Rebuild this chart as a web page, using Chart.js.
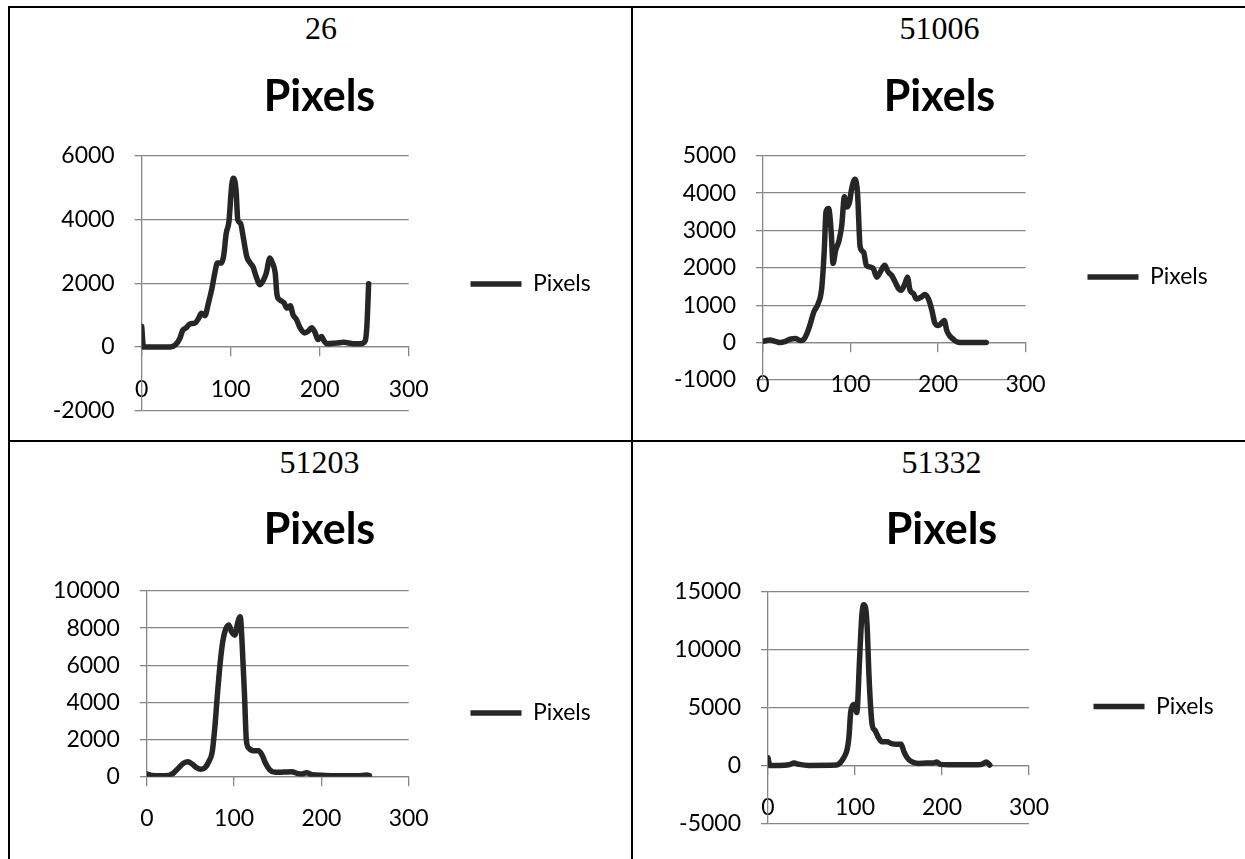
<!DOCTYPE html>
<html>
<head>
<meta charset="utf-8">
<script src="https://cdn.jsdelivr.net/npm/chart.js@4.4.1/dist/chart.umd.min.js"></script>
<style>
    html, body { margin: 0; padding: 0; background: #fff; }
    #page { position: relative; width: 1245px; height: 859px; overflow: hidden; background: #fff; }
    .rule { position: absolute; background: #000; }
    .caption {
        position: absolute; width: 200px; height: 36px; line-height: 36px;
        text-align: center; font-family: 'Liberation Serif', serif; font-size: 32px; color: #000;
    }
    canvas { position: absolute; }
</style>
</head>
<body>
<div id="page">
    <div class="rule" style="left:8px;top:6px;width:1237px;height:2px"></div>
    <div class="rule" style="left:8px;top:6px;width:2px;height:853px"></div>
    <div class="rule" style="left:631px;top:6px;width:2px;height:853px"></div>
    <div class="rule" style="left:8px;top:440px;width:1237px;height:2px"></div>
    <div class="caption" id="cap1"></div>
    <div class="caption" id="cap2"></div>
    <div class="caption" id="cap3"></div>
    <div class="caption" id="cap4"></div>
    <canvas id="c1"></canvas>
    <canvas id="c2"></canvas>
    <canvas id="c3"></canvas>
    <canvas id="c4"></canvas>
</div>
<script>
// image ids shown above each histogram
const captions = ['26', '51006', '51203', '51332'];
const seriesName = 'Pixels';

// histogram readings: grey level bin -> pixel count
const bins26 = [0, 2, 32, 38, 43, 46, 50, 54, 60, 64, 67, 71, 75, 79, 82, 85, 89, 92, 95, 98,
    101, 103, 106, 108, 111, 114, 118, 122, 125, 128, 133, 137, 140, 144, 147, 150, 152, 155, 160, 163,
    167, 170, 174, 178, 183, 187, 191, 195, 198, 202, 205, 208, 219, 227, 238, 246, 251, 253, 255];
const pixels26 = [650, 0, 0, 70, 280, 520, 600, 720, 750, 900, 1060, 980, 1380, 1850, 2300, 2630, 2630, 2840, 3570, 3930,
    5030, 5290, 4920, 3980, 3880, 3460, 2840, 2630, 2520, 2260, 1950, 2110, 2320, 2790, 2630, 2320, 1640, 1480, 1380, 1220,
    1290, 1010, 855, 600, 440, 490, 600, 440, 230, 330, 180, 100, 125, 145, 100, 100, 180, 650, 1980];

const bins51006 = [0, 8, 14, 20, 25, 31, 37, 43, 46, 50, 54, 58, 63, 67, 70, 72, 75, 78, 80, 83,
    87, 90, 93, 96, 99, 101, 105, 108, 111, 115, 118, 123, 126, 130, 134, 139, 143, 147, 151, 155,
    158, 162, 165, 168, 172, 175, 181, 185, 189, 193, 196, 200, 204, 207, 210, 213, 217, 223, 236, 255];
const pixels51006 = [35, 70, 35, 0, 27, 90, 107, 54, 72, 233, 500, 815, 1040, 1440, 2470, 3500, 3590, 2920, 2120, 2470,
    2740, 3140, 3900, 3630, 3770, 4080, 4370, 3990, 2560, 2420, 2070, 2020, 1980, 1750, 1890, 2070, 1890, 1800, 1620, 1440,
    1400, 1570, 1750, 1400, 1310, 1170, 1220, 1290, 1170, 860, 545, 456, 520, 590, 322, 188, 98, 9, 0, 0];

const bins51203 = [0, 6, 15, 25, 31, 36, 42, 47, 52, 57, 62, 67, 71, 75, 78, 81, 84, 87, 90, 94,
    97, 101, 104, 107, 109, 112, 114, 117, 122, 128, 132, 136, 141, 147, 157, 166, 172, 178, 183, 189,
    202, 218, 241, 252, 255];
const pixels51203 = [145, 70, 55, 70, 215, 450, 720, 810, 680, 485, 395, 500, 810, 1350, 2690, 4490, 6100, 7270, 7900, 8170,
    7810, 7630, 8260, 8620, 7360, 4310, 1975, 1530, 1400, 1400, 1170, 720, 360, 233, 250, 270, 180, 145, 215, 108,
    72, 54, 54, 90, 54];

const bins51332 = [0, 2, 13, 24, 30, 36, 47, 79, 83, 87, 91, 93, 95, 97, 100, 102, 103, 105, 108, 110,
    112, 114, 116, 118, 120, 123, 127, 131, 137, 142, 148, 153, 156, 160, 165, 173, 182, 190, 194, 198,
    207, 226, 245, 251, 255];
const pixels51332 = [660, 0, 0, 58, 200, 87, 0, 30, 230, 660, 1385, 2400, 4560, 5140, 5280, 4560, 5280, 8740, 13070, 13880,
    13650, 11920, 7880, 5000, 3400, 3030, 2400, 2050, 2050, 1875, 1820, 1820, 1240, 660, 317, 173, 200, 200, 290, 87,
    58, 58, 87, 290, 30];

// axis ranges: [min, max, step]
const xRange = [0, 300, 100];
const yRange26 = [-2000, 6000, 2000];
const yRange51006 = [-1000, 5000, 1000];
const yRange51203 = [0, 10000, 2000];
const yRange51332 = [-5000, 15000, 5000];

const lineColor = '#262626';
const gridColor = '#868686';

// where each chart sits on the page
// yW = y axis width, xH = space kept under the plot, gap = plot edge to legend line, legW = legend width
const boxes = [
    { left: 39, top: 60, width: 561, height: 448, yW: 97.7, xH: 97.3, tTop: 11.2, tBot: 32.9, gap: 61.8, legW: 186.3, cap: [321, 28.3] },
    { left: 662, top: 60, width: 555, height: 434, yW: 96, xH: 114, tTop: 11.2, tBot: 32.9, gap: 61.9, legW: 186.4, cap: [939.5, 28.3] },
    { left: 39, top: 490, width: 561, height: 446, yW: 102.8, xH: 159.3, tTop: 14.2, tBot: 35.2, gap: 61.8, legW: 186.3, cap: [319.4, 461.7] },
    { left: 660, top: 490, width: 563, height: 433, yW: 103, xH: 99.7, tTop: 14.2, tBot: 35.9, gap: 64.5, legW: 189, cap: [941.4, 461.7] }
];

Chart.defaults.font.family = 'Lato';
Chart.defaults.color = '#000';

function makeChart(n, bins, values, yRange) {
    const box = boxes[n];
    const cap = document.getElementById('cap' + (n + 1));
    cap.textContent = captions[n];
    cap.style.left = (box.cap[0] - 100) + 'px';
    cap.style.top = (box.cap[1] - 18) + 'px';

    const canvas = document.getElementById('c' + (n + 1));
    canvas.style.left = box.left + 'px';
    canvas.style.top = box.top + 'px';
    canvas.width = box.width;
    canvas.height = box.height;

    const points = bins.map((b, i) => ({ x: b, y: values[i] }));

    return new Chart(canvas, {
        type: 'line',
        data: {
            datasets: [{
                label: seriesName,
                data: points,
                xAxisID: 'x',
                yAxisID: 'y',
                borderColor: lineColor,
                backgroundColor: lineColor,
                borderWidth: 5.5,
                borderCapStyle: 'round',
                borderJoinStyle: 'round',
                pointRadius: 0,
                cubicInterpolationMode: 'monotone',
                fill: false
            }]
        },
        options: {
            responsive: false,
            animation: false,
            layout: { padding: { left: 5, right: 5, top: 0, bottom: 0 } },
            plugins: {
                title: {
                    display: true,
                    text: seriesName,
                    color: '#000',
                    font: { size: 43, weight: 'bold' },
                    padding: { top: box.tTop, bottom: box.tBot }
                },
                legend: {
                    position: 'right',
                    maxWidth: box.legW,
                    labels: {
                        usePointStyle: true,
                        pointStyle: 'line',
                        pointStyleWidth: 51,
                        padding: box.gap,
                        color: '#000',
                        font: { size: 23 }
                    }
                },
                tooltip: { enabled: false }
            },
            scales: {
                x: {
                    type: 'linear',
                    position: { y: 0 },
                    min: xRange[0],
                    max: xRange[1],
                    border: { color: gridColor, width: 1.3 },
                    grid: { drawOnChartArea: false, color: gridColor, lineWidth: 1.3, tickLength: 9 },
                    ticks: {
                        stepSize: xRange[2],
                        padding: 19.5,
                        maxRotation: 0,
                        font: { size: 23 },
                        callback: (v) => String(v)
                    }
                },
                // empty strip under the plot, leaves room for the x labels
                under: {
                    type: 'linear',
                    position: 'bottom',
                    grid: { display: false },
                    border: { display: false },
                    ticks: { display: false },
                    afterFit: (s) => { s.height = box.xH; }
                },
                y: {
                    min: yRange[0],
                    max: yRange[1],
                    afterFit: (s) => { s.width = box.yW; },
                    border: { color: gridColor, width: 1.3 },
                    grid: { color: gridColor, lineWidth: 1.3, tickLength: 7 },
                    ticks: {
                        stepSize: yRange[2],
                        padding: 20,
                        font: { size: 23 },
                        callback: (v) => String(v)
                    }
                }
            }
        }
    });
}

makeChart(0, bins26, pixels26, yRange26);
makeChart(1, bins51006, pixels51006, yRange51006);
makeChart(2, bins51203, pixels51203, yRange51203);
makeChart(3, bins51332, pixels51332, yRange51332);
</script>
</body>
</html>
